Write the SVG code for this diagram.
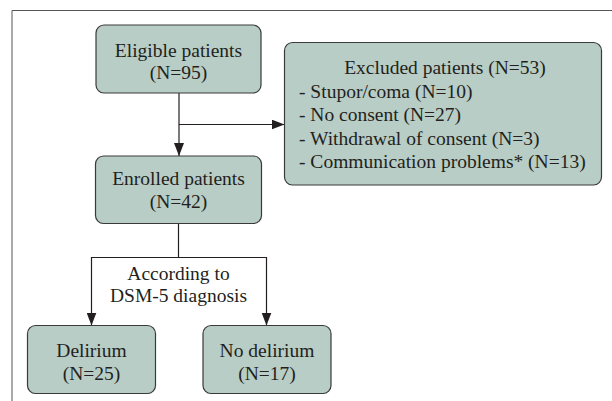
<svg xmlns="http://www.w3.org/2000/svg" width="612" height="401" viewBox="0 0 612 401">
<style>
.box{fill:#b8cdc5;stroke:#3a3a3a;stroke-width:1.2}
.t{font-family:"Liberation Serif","Times New Roman",serif;font-size:19.5px;fill:#231f20}
.c{text-anchor:middle}
.ln{fill:none;stroke:#231f20;stroke-width:1.2}
</style>
<defs>
<marker id="ah" viewBox="0 0 13 10" refX="13" refY="5" markerWidth="13" markerHeight="10" markerUnits="userSpaceOnUse" orient="auto">
<path d="M0,0 L13,5 L0,10 z" fill="#231f20"/>
</marker>
</defs>
<rect width="612" height="401" fill="#fff"/>
<path d="M12,401 V10.5 H612" fill="none" stroke="#555" stroke-width="1"/>
<g id="connectors">
<line class="ln" x1="179" y1="93" x2="179" y2="156" marker-end="url(#ah)"/>
<line class="ln" x1="179" y1="124.5" x2="284.5" y2="124.5" marker-end="url(#ah)"/>
<line class="ln" x1="178.5" y1="223.5" x2="178.5" y2="257.5"/>
<path class="ln" d="M91.5,257.5 H266.5 V325.5" marker-end="url(#ah)"/>
<line class="ln" x1="91.5" y1="257" x2="91.5" y2="325.5" marker-end="url(#ah)"/>
<text class="t c" x="178.5" y="280">According to</text>
<text class="t c" x="178.5" y="302">DSM-5 diagnosis</text>
</g>
<g id="eligible">
<rect class="box" x="96" y="25" width="165" height="68" rx="8"/>
<text class="t c" x="178.5" y="57">Eligible patients</text>
<text class="t c" x="178.5" y="79">(N=95)</text>
</g>
<g id="excluded">
<rect class="box" x="284.5" y="42.5" width="317" height="142.5" rx="8"/>
<text class="t c" x="445" y="74">Excluded patients (N=53)</text>
<text class="t" x="299" y="97.5">- Stupor/coma (N=10)</text>
<text class="t" x="299" y="121">- No consent (N=27)</text>
<text class="t" x="299" y="144.5">- Withdrawal of consent (N=3)</text>
<text class="t" x="299" y="168">- Communication problems* (N=13)</text>
</g>
<g id="enrolled">
<rect class="box" x="95.5" y="156" width="166" height="67.5" rx="8"/>
<text class="t c" x="178.5" y="185">Enrolled patients</text>
<text class="t c" x="178.5" y="208">(N=42)</text>
</g>
<g id="delirium">
<rect class="box" x="27.5" y="325.5" width="128" height="68" rx="8"/>
<text class="t c" x="91.5" y="357">Delirium</text>
<text class="t c" x="91.5" y="380">(N=25)</text>
</g>
<g id="nodelirium">
<rect class="box" x="203" y="325.5" width="128" height="68" rx="8"/>
<text class="t c" x="267" y="357">No delirium</text>
<text class="t c" x="267" y="380">(N=17)</text>
</g>
</svg>
